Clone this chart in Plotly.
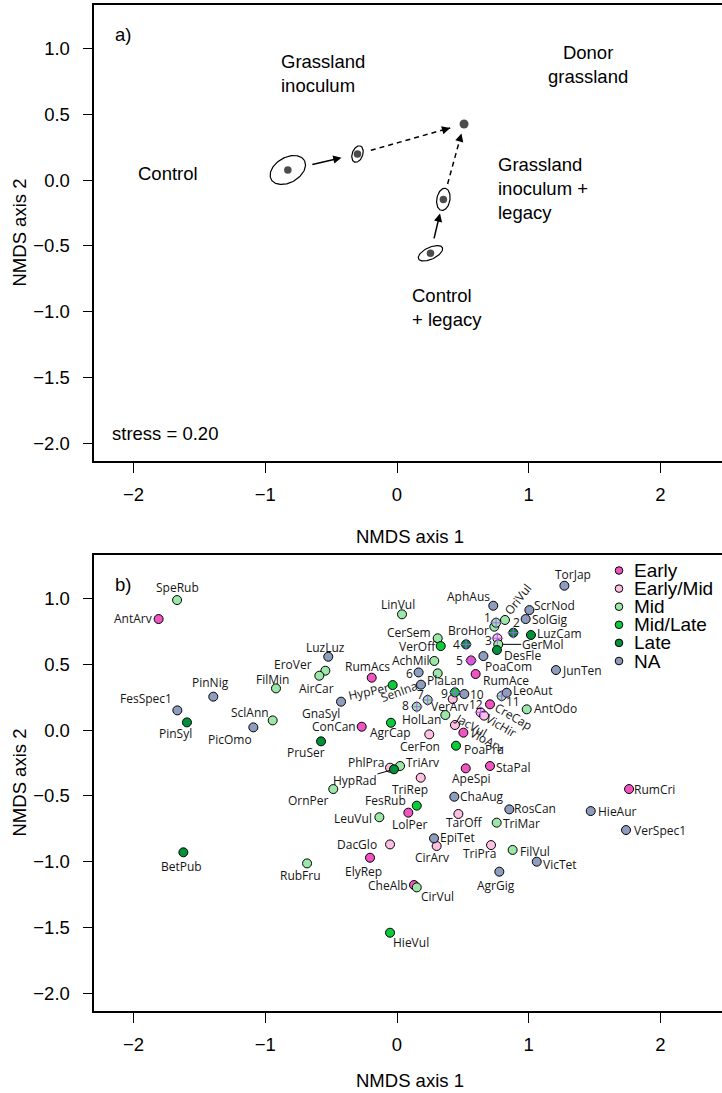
import numpy as np
import plotly.graph_objects as go

# ---------------- Panel a data ----------------
treatments = ["Control", "Grassland inoculum", "Donor grassland",
              "Grassland inoculum + legacy", "Control + legacy"]
cent_x = [-0.829, -0.300, 0.509, 0.352, 0.254]
cent_y = [0.076, 0.197, 0.425, -0.147, -0.556]
ell_a = [0.145, 0.065, 0.0, 0.085, 0.100]      # semi-major axis
ell_b = [0.095, 0.040, 0.0, 0.050, 0.045]      # semi-minor axis
ell_angle = [30, 70, 0, 80, 25]                # degrees
# arrows: from treatment index -> to treatment index, start/end fraction, dashed
arrow_from = [0, 1, 4, 3]
arrow_to = [1, 2, 3, 2]
arrow_f0 = [0.33, 0.125, 0.25, 0.205]
arrow_f1 = [0.77, 0.87, 0.74, 0.875]
arrow_dashed = [False, True, False, True]

# ---------------- Panel b data ----------------
species = ["AntArv", "RumAcs", "ConCan", "RumAce", "CreCap", "VioArv", "ApeSpi", "StaPal",
           "LolPer", "ElyRep", "CheAlb", "RumCri", "5",
           "VerArv", "JacVul", "CerFon", "PhlPra", "TriRep", "TarOff", "DacGlo", "CirArv",
           "TriPra", "3", "12", "VicHir",
           "SpeRub", "EroVer", "AirCar", "FilMin", "SclAnn", "LinVul", "CerSem", "AchMil",
           "PlaLan", "OriVul", "BroHor", "GerMol", "1", "7", "8", "11", "HolLan", "AntOdo",
           "TriArv", "OrnPer", "LeuVul", "TriMar", "FilVul", "CirVul", "RubFru",
           "VerOff", "HypPer", "AgrCap", "PoaPra", "FesRub", "HieVul", "9",
           "PinSyl", "BetPub", "PruSer", "4", "2", "LuzCam", "DesFle", "HypRad",
           "PinNig", "FesSpec1", "PicOmo", "LuzLuz", "GnaSyl", "SenIna", "6", "10", "PoaCom",
           "AphAus", "TorJap", "ScrNod", "SolGig", "JunTen", "LeoAut", "ChaAug", "RosCan",
           "EpiTet", "AgrGig", "VicTet", "HieAur", "VerSpec1"]
nmds1 = [-1.810, -0.192, -0.268, 0.597, 0.706, 0.504, 0.522, 0.706,
         0.086, -0.205, 0.129, 1.762, 0.562,
         0.423, 0.440, 0.245, -0.053, 0.180, 0.466, -0.053, 0.301,
         0.714, 0.762, 0.635, 0.661,
         -1.670, -0.544, -0.590, -0.919, -0.944, 0.038, 0.309, 0.283,
         0.309, 0.820, 0.739, 0.769, 0.752, 0.233, 0.150, 0.795, 0.367, 0.985,
         0.023, -0.484, -0.134, 0.757, 0.878, 0.150, -0.683,
         0.332, -0.033, -0.046, 0.448, 0.150, -0.053, 0.440,
         -1.595, -1.622, -0.577, 0.524, 0.883, 1.017, 0.759, -0.023,
         -1.395, -1.668, -1.091, -0.522, -0.425, 0.182, 0.164, 0.511, 0.656,
         0.731, 1.271, 1.005, 0.977, 1.207, 0.833, 0.435, 0.853,
         0.281, 0.777, 1.061, 1.471, 1.739]
nmds2 = [0.842, 0.397, 0.025, 0.425, 0.195, -0.020, -0.291, -0.273,
         -0.627, -0.969, -1.176, -0.448, 0.528,
         0.235, 0.038, -0.033, -0.286, -0.362, -0.637, -0.868, -0.880,
         -0.873, 0.696, 0.134, 0.109,
         0.986, 0.450, 0.412, 0.316, 0.073, 0.878, 0.696, 0.524,
         0.430, 0.835, 0.784, 0.650, 0.814, 0.228, 0.177, 0.258, 0.114, 0.157,
         -0.273, -0.448, -0.662, -0.703, -0.910, -1.194, -1.012,
         0.637, 0.341, 0.055, -0.119, -0.574, -1.538, 0.286,
         0.058, -0.928, -0.086, 0.650, 0.738, 0.721, 0.607, -0.298,
         0.253, 0.149, 0.020, 0.556, 0.215, 0.344, 0.437, 0.273, 0.561,
         0.943, 1.095, 0.910, 0.842, 0.455, 0.283, -0.506, -0.602,
         -0.822, -1.075, -0.999, -0.615, -0.759]
phenology = (["Early"] * 13 + ["Early/Mid"] * 12 + ["Mid"] * 25 + ["Mid/Late"] * 7 +
             ["Late"] * 8 + ["NA"] * 22)

groups = ["Early", "Early/Mid", "Mid", "Mid/Late", "Late", "NA"]

# ---------------- styles ----------------
group_colors = {"Early": "#F054C0", "Early/Mid": "#FFBFE3", "Mid": "#9BE6A8",
                "Mid/Late": "#0BCB3A", "Late": "#00903A", "NA": "#8E9CBE"}
crosshair = {"1", "2", "3", "4", "5", "7", "8", "9", "11", "12"}
# label placement: (x-anchor, dx px, dy px (down), angle)
LBL = {
    "SpeRub": ("c", 0, -13, 0), "AntArv": ("r", -6, -1, 0), "LuzLuz": ("c", -3, -9, 0),
    "EroVer": ("r", -12, -6, 0), "AirCar": ("c", -3, 12.5, 0), "FilMin": ("c", -3, -8.5, 0),
    "PinNig": ("c", -3, -14, 0), "FesSpec1": ("r", -4.5, -12, 0), "SclAnn": ("r", -3, -7.5, 0),
    "PinSyl": ("c", -11, 11, 0), "PicOmo": ("r", 0, 12.5, 0), "GnaSyl": ("r", 0, 11.5, 0),
    "TorJap": ("c", 9, -11, 0), "AphAus": ("r", -2, -9, 0), "OriVul": ("c", 13, -20, -52),
    "ScrNod": ("l", 4, -5, 0), "SolGig": ("l", 5, 0, 0), "1": ("c", -9, -5, 0),
    "BroHor": ("r", -4, 4, 0), "2": ("c", 3.5, -10, 0), "LuzCam": ("l", 5.5, -1.5, 0),
    "4": ("c", -9.5, 0, 0), "3": ("c", -9, 2.5, 0), "DesFle": ("l", 6, 5, 0),
    "VerOff": ("r", -4, 0, 0), "CerSem": ("r", -6, -5.5, 0), "LinVul": ("c", -4.5, -9.5, 0),
    "AchMil": ("r", -3, 0, 0), "5": ("c", -11.5, 0.5, 0), "PoaCom": ("l", 1, 10, 0),
    "RumAcs": ("c", -4, -11, 0), "6": ("c", -9.5, 1, 0), "PlaLan": ("c", 7.5, 7.5, 0),
    "RumAce": ("l", 6, 6, 0), "JunTen": ("l", 5.5, 0, 0), "HypPer": ("c", -24.5, 6, -12),
    "SenIna": ("c", -22, 6.5, -20), "7": ("c", -7.5, -5, 0), "8": ("c", -11, -1.5, 0),
    "9": ("c", -10, 1, 0), "10": ("l", 5, 0, 0), "VerArv": ("c", -3, 7, 0),
    "12": ("c", -5, -7.5, 0), "VicHir": ("c", 17, 9.5, 30), "11": ("c", 11, 5.5, 0),
    "LeoAut": ("l", 5, -2, 0), "CreCap": ("c", 23.5, 12.5, 30), "AntOdo": ("l", 6.5, -1, 0),
    "HolLan": ("r", -3.5, 4.5, 0), "JacVul": ("c", 16.5, 0.5, 30), "VioArv": ("c", 24, 7.5, 28),
    "CerFon": ("c", -9.5, 12.5, 0), "PoaPra": ("l", 7, 3.5, 0), "ConCan": ("r", -5, 0, 0),
    "AgrCap": ("c", 0, 9.5, 0), "PhlPra": ("r", -5, -5, 0), "TriArv": ("l", 5, -3.5, 0),
    "ApeSpi": ("c", 6, 10.5, 0), "StaPal": ("l", 5, 1.5, 0), "TriRep": ("c", -10.5, 11.5, 0),
    "ChaAug": ("l", 5, 0, 0), "RosCan": ("l", 4, -1, 0), "FesRub": ("r", -10, -5, 0),
    "OrnPer": ("r", -3, 11, 0), "PruSer": ("c", -15.5, 11.5, 0), "BetPub": ("c", -2, 14, 0),
    "RubFru": ("c", -7, 12, 0), "LeuVul": ("r", -6.5, 1, 0), "LolPer": ("c", 1, 11.5, 0),
    "TarOff": ("c", 6, 9, 0), "TriMar": ("l", 5, 0.5, 0), "EpiTet": ("l", 5, -1, 0),
    "CirArv": ("c", -5, 11.5, 0), "DacGlo": ("r", -12.5, 0, 0), "TriPra": ("c", -11.5, 8.5, 0),
    "FilVul": ("l", 6, 1.5, 0), "VicTet": ("l", 5, 2.5, 0), "ElyRep": ("c", -6.5, 14, 0),
    "AgrGig": ("c", -3.5, 13.5, 0), "CheAlb": ("r", -5, 0, 0), "CirVul": ("l", 3, 9.5, 0),
    "HieVul": ("l", 1.5, 10, 0), "RumCri": ("l", 3.5, 0, 0), "HieAur": ("l", 6.5, 0, 0),
    "VerSpec1": ("l", 6.5, 0.5, 0),
}
LEADER = {"GerMol": (44, 0), "HypRad": (-39, 11)}

W, H = 722, 1093
LEFT_PX, RIGHT_PX = 94.3, 722
XR = [-2.2985, 2.4677]
YR = [-2.132, 1.328]
xdom = [LEFT_PX / W, RIGHT_PX / W]
ydom_a = [1 - 461 / H, 1 - 5 / H]
ydom_b = [1 - 1011 / H, 1 - 555 / H]

AXFONT = dict(family="Liberation Sans, Arial, sans-serif", size=18.5, color="black")
LBLFONT = dict(family="Open Sans, Noto Sans, sans-serif", size=12, color="#151515")

fig = go.Figure()

# ---- panel a: ellipses ----
t = np.linspace(0, 2 * np.pi, 120)
for cx, cy, a, b, ang in zip(cent_x, cent_y, ell_a, ell_b, ell_angle):
    if a <= 0:
        continue
    th = np.deg2rad(ang)
    ex = cx + a * np.cos(t) * np.cos(th) - b * np.sin(t) * np.sin(th)
    ey = cy + a * np.cos(t) * np.sin(th) + b * np.sin(t) * np.cos(th)
    fig.add_trace(go.Scatter(x=ex, y=ey, mode="lines", line=dict(color="black", width=1.2),
                             xaxis="x", yaxis="y", showlegend=False, hoverinfo="skip"))

# ---- panel a: arrows ----
annotations = []
for i0, i1, f0, f1, dashed in zip(arrow_from, arrow_to, arrow_f0, arrow_f1, arrow_dashed):
    x0 = cent_x[i0] + f0 * (cent_x[i1] - cent_x[i0])
    y0 = cent_y[i0] + f0 * (cent_y[i1] - cent_y[i0])
    x1 = cent_x[i0] + f1 * (cent_x[i1] - cent_x[i0])
    y1 = cent_y[i0] + f1 * (cent_y[i1] - cent_y[i0])
    if dashed:
        fig.add_trace(go.Scatter(x=[x0, x1], y=[y0, y1], mode="lines",
                                 line=dict(color="black", width=1.5, dash="5px,4px"),
                                 xaxis="x", yaxis="y", showlegend=False, hoverinfo="skip"))
        dx, dy = x1 - x0, y1 - y0
        n = np.hypot(dx, dy)
        annotations.append(dict(x=x1, y=y1, ax=x1 - 0.06 * dx / n, ay=y1 - 0.06 * dy / n,
                                xref="x", yref="y", axref="x", ayref="y", text="",
                                showarrow=True, arrowhead=2, arrowsize=1.1, arrowwidth=1.5,
                                arrowcolor="black", standoff=0))
    else:
        annotations.append(dict(x=x1, y=y1, ax=x0, ay=y0, xref="x", yref="y",
                                axref="x", ayref="y", text="", showarrow=True, arrowhead=2,
                                arrowsize=1.1, arrowwidth=1.5, arrowcolor="black", standoff=0))

# ---- panel a: centroids ----
fig.add_trace(go.Scatter(x=cent_x, y=cent_y, mode="markers",
                         marker=dict(color="black", size=[7.5, 7.5, 9, 7.5, 7.5],
                                     line=dict(width=0)),
                         xaxis="x", yaxis="y", showlegend=False, text=treatments,
                         hoverinfo="text"))

# ---- panel a: texts ----
a_texts = [
    ("a)", -2.083, 1.105, "center", "center"),
    ("Control", -1.737, 0.051, "center", "center"),
    ("Grassland<br>inoculum", -0.889, 0.806, "left", "left"),
    ("Donor<br>grassland", 1.45, 0.873, "center", "center"),
    ("Grassland<br>inoculum +<br>legacy", 0.761, -0.061, "left", "left"),
    ("Control<br>+ legacy", 0.107, -0.966, "left", "left"),
    ("stress = 0.20", -2.175, -1.922, "left", "left"),
]
for txt, x, y, xa, al in a_texts:
    annotations.append(dict(x=x, y=y, xref="x", yref="y", text=txt, showarrow=False,
                            xanchor=xa, yanchor="middle", align=al, font=AXFONT, borderpad=0))

# ---- panel b: points ----
sp = np.array(species)
x1a = np.array(nmds1)
y1a = np.array(nmds2)
ph = np.array(phenology)
for g in groups:
    m = ph == g
    fig.add_trace(go.Scatter(x=x1a[m], y=y1a[m], mode="markers", name=g,
                             marker=dict(color=group_colors[g], size=9,
                                         line=dict(color="black", width=1)),
                             xaxis="x2", yaxis="y2", showlegend=False,
                             text=sp[m], hoverinfo="text"))
mc = np.array([s in crosshair for s in species])
fig.add_trace(go.Scatter(x=x1a[mc], y=y1a[mc], mode="markers",
                         marker=dict(symbol="cross-thin-open", size=8.5,
                                     line=dict(color="black", width=1)),
                         xaxis="x2", yaxis="y2", showlegend=False, hoverinfo="skip"))

# ---- panel b: labels ----
anch = {"c": "center", "l": "left", "r": "right"}
for s, x, y in zip(species, nmds1, nmds2):
    if s in LEADER:
        ax, ay = LEADER[s]
        annotations.append(dict(x=x, y=y, xref="x2", yref="y2", text=s, showarrow=True,
                                ax=ax, ay=ay, arrowhead=0, arrowwidth=1, arrowcolor="black",
                                standoff=4, font=LBLFONT, borderpad=0))
        continue
    a, dx, dy, ang = LBL[s]
    annotations.append(dict(x=x, y=y, xref="x2", yref="y2", text=s, showarrow=False,
                            xanchor=anch[a], yanchor="middle", xshift=dx, yshift=-dy,
                            textangle=ang, font=LBLFONT, borderpad=0))

annotations.append(dict(x=-2.083, y=1.105, xref="x2", yref="y2", text="b)", showarrow=False,
                        xanchor="center", yanchor="middle", font=AXFONT, borderpad=0))

# ---- panel b: legend (drawn) ----
shapes = []
for i, g in enumerate(groups):
    ypx = 570.5 + i * 18.1
    r = 3.8
    shapes.append(dict(type="circle", xref="paper", yref="paper",
                       x0=(619 - r) / W, x1=(619 + r) / W,
                       y0=1 - (ypx + r) / H, y1=1 - (ypx - r) / H,
                       fillcolor=group_colors[g], line=dict(color="black", width=1)))
    annotations.append(dict(x=633 / W, y=1 - ypx / H, xref="paper", yref="paper", text=g,
                            showarrow=False, xanchor="left", yanchor="middle",
                            font=dict(family="Liberation Sans, Arial, sans-serif", size=19,
                                      color="black"), borderpad=0))

# ---- axis titles ----
for ypx in (537, 1080):
    annotations.append(dict(x=409.8 / W, y=1 - ypx / H, xref="paper", yref="paper",
                            text="NMDS axis 1", showarrow=False, xanchor="center",
                            yanchor="middle", font=AXFONT, borderpad=0))
for ypx in (233, 783):
    annotations.append(dict(x=18.5 / W, y=1 - ypx / H, xref="paper", yref="paper",
                            text="NMDS axis 2", showarrow=False, xanchor="center",
                            yanchor="middle", textangle=-90, font=AXFONT, borderpad=0))

common = dict(showgrid=False, zeroline=False, showline=True, linecolor="black", linewidth=1.5,
              ticks="outside", ticklen=10, tickwidth=1.2, tickcolor="black", tickfont=AXFONT)
xax = dict(common, domain=xdom, range=XR, tickvals=[-2, -1, 0, 1, 2], mirror=True,
           ticklabelstandoff=6)
yax = dict(common, range=YR, tickvals=[-2, -1.5, -1, -0.5, 0, 0.5, 1], tickformat=".1f",
           ticklabelstandoff=9)

fig.update_layout(
    width=W, height=H, margin=dict(l=0, r=0, t=0, b=0),
    paper_bgcolor="white", plot_bgcolor="white",
    xaxis=dict(xax, anchor="y"),
    yaxis=dict(yax, domain=ydom_a, anchor="x"),
    xaxis2=dict(xax, anchor="y2"),
    yaxis2=dict(yax, domain=ydom_b, anchor="x2"),
    annotations=annotations, shapes=shapes, showlegend=False,
)

fig.write_html("out.html", config={"displayModeBar": False},
               post_script="document.body.style.margin='0px';"
                           "document.body.style.padding='0px';"
                           "document.documentElement.style.overflow='hidden';")
